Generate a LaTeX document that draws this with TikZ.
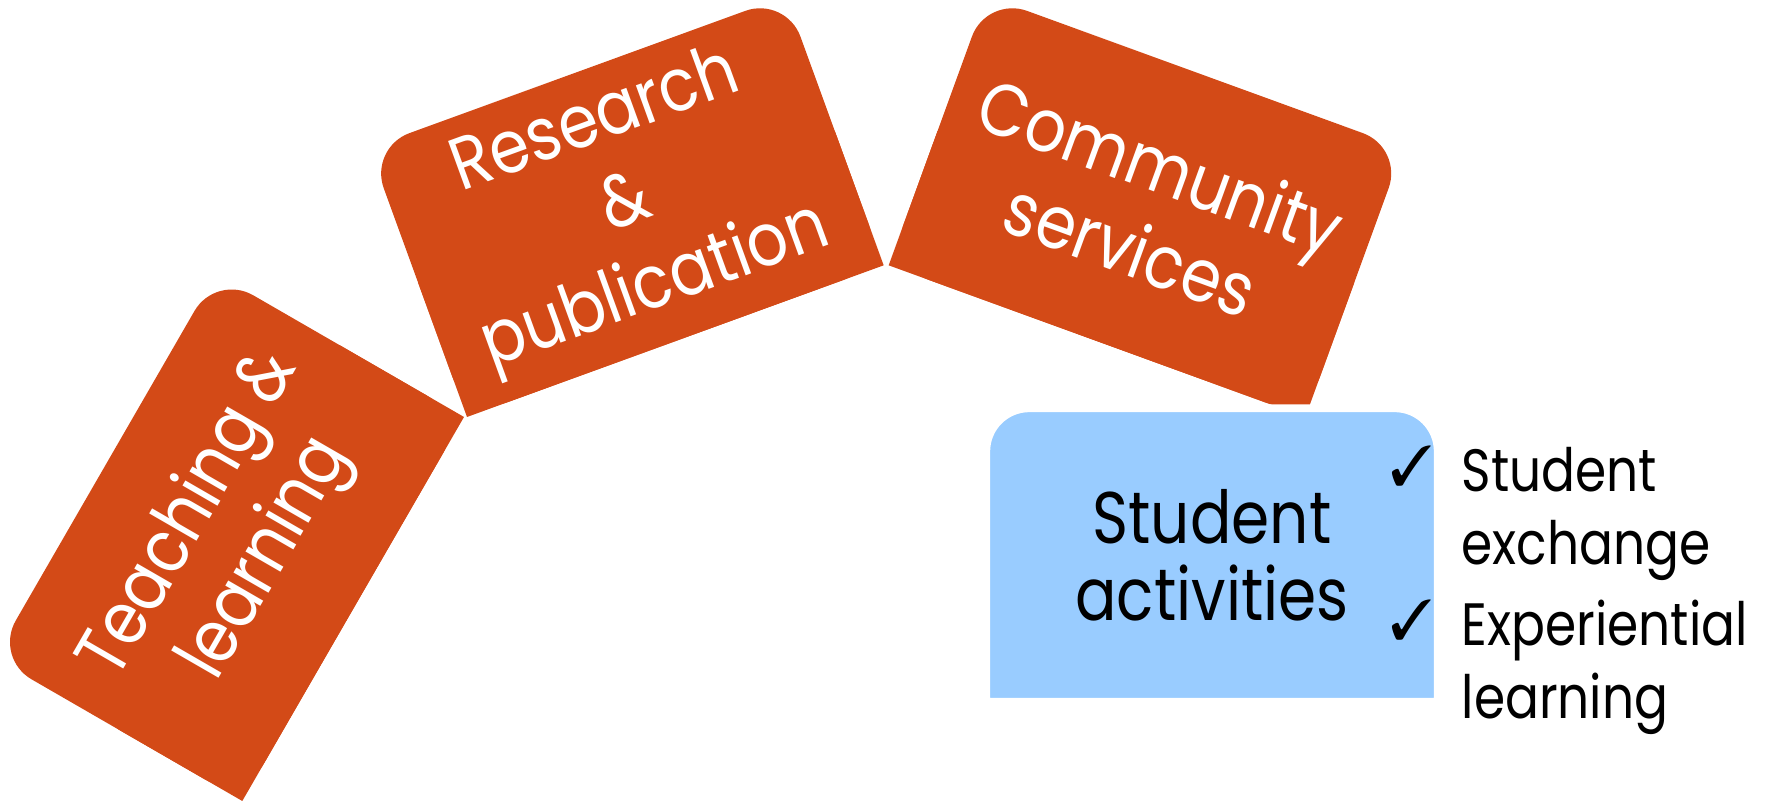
\documentclass[tikz,border=0pt]{standalone}
\usepackage{fontspec}
\usepackage{pifont}
\usetikzlibrary{positioning, backgrounds}

\newfontfamily\pillarfont[FakeStretch=0.87]{Poppins}
\newfontfamily\listfont[FakeStretch=0.84]{Poppins}

\definecolor{pillarorange}{RGB}{211,74,23}
\definecolor{activityblue}{RGB}{153,204,255}

\tikzset{
  pillar/.style={minimum width=4.42cm, minimum height=2.85cm, inner sep=0pt,
    text=white, align=center, font=\pillarfont\fontsize{21}{25}\selectfont},
  actbox/.style={minimum width=4.5cm, minimum height=2.92cm, inner sep=0pt,
    align=center, font=\listfont\fontsize{20.8}{22}\selectfont},
  listitem/.style={inner sep=0pt, align=left, anchor=base west,
    font=\listfont\fontsize{17}{21}\selectfont},
  tick/.style={inner sep=0pt, anchor=south east, font=\fontsize{16}{16}\selectfont}
}

\begin{document}
\begin{tikzpicture}
  \useasboundingbox (0,0) rectangle (17.73,8.01);

  % three pillars on an arc
  \node[pillar, rotate=60, anchor=south east] (teach) at (4.64,3.84) {Teaching \&\\learning};
  \node[pillar, rotate=20, anchor=south west] (research) at ([xshift=0.3mm]teach.south east) {Research\\\&\\publication};
  \node[pillar, rotate=-20, anchor=south west] (community) at ([xshift=0.5mm]research.south east) {Community\\services};

  % student activities
  \node[actbox] (activity) at (12.12,2.46) {Student\\activities};

  \begin{scope}[on background layer]
    \foreach \p in {teach, research, community} {
      \fill[pillarorange, rounded corners=4.3mm] (\p.south west) -- (\p.north west) -- (\p.north east) -- (\p.south east) -- cycle;
      \fill[pillarorange] (\p.south west) -- (\p.west) -- (\p.east) -- (\p.south east) -- cycle;
    }
    \path[fill=activityblue, draw=white, line width=2.2pt]
      (activity.south west) -- ([yshift=-4.3mm]activity.north west)
      arc[start angle=180, end angle=90, radius=4.3mm]
      -- ([xshift=-4.3mm]activity.north east)
      arc[start angle=90, end angle=0, radius=4.3mm]
      -- (activity.south east) -- cycle;
  \end{scope}

  % list beside the box (base = last line)
  \node[listitem] (exchange) at (14.61,2.36) {Student\\exchange};
  \node[listitem] (experiential) at (14.61,0.82) {Experiential\\learning};
  \node[tick] (tick1) at ([shift={(-2.7mm,22.1pt)}]exchange.base west) {\ding{51}};
  \node[tick] (tick2) at ([shift={(-2.7mm,22.1pt)}]experiential.base west) {\ding{51}};
\end{tikzpicture}
\end{document}
